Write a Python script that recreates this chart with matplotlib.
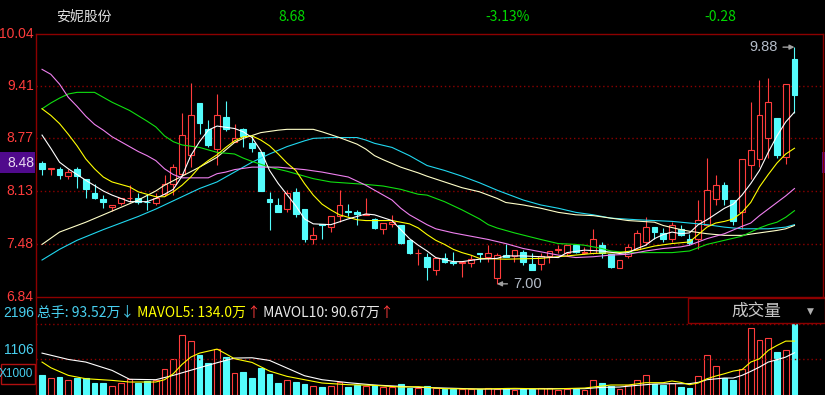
import matplotlib
matplotlib.use("Agg")
import matplotlib.pyplot as plt
from matplotlib.lines import Line2D
from matplotlib.patches import Rectangle

W, H = 825, 395

# daily bars, oldest first
opens = [8.47, 8.40, 8.40, 8.31, 8.40, 8.27, 8.11, 8.03, 7.94, 7.98,
         8.04, 8.05, 8.00, 7.98, 8.09, 8.21, 8.34, 8.57, 9.20, 8.88,
         8.64, 9.03, 8.72, 8.88, 8.71, 8.60, 8.03, 7.96, 7.91, 8.12,
         7.91, 7.55, 7.73, 7.69, 7.82, 7.89, 7.88, 7.84, 7.79, 7.67,
         7.73, 7.72, 7.53, 7.37, 7.33, 7.17, 7.31, 7.27, 7.25, 7.25,
         7.38, 7.33, 7.07, 7.35, 7.34, 7.39, 7.24, 7.24, 7.34, 7.41,
         7.38, 7.47, 7.38, 7.38, 7.47, 7.36, 7.19, 7.34, 7.43, 7.51,
         7.69, 7.62, 7.54, 7.67, 7.55, 7.54, 7.72, 8.03, 8.20, 8.02,
         7.88, 8.45, 8.52, 8.77, 9.02, 8.54, 9.73]
highs = [8.50, 8.41, 8.42, 8.40, 8.42, 8.27, 8.22, 8.08, 7.96, 8.05,
         8.20, 8.11, 8.09, 8.11, 8.32, 8.46, 9.08, 9.44, 9.20, 8.99,
         9.31, 9.23, 8.94, 8.90, 8.81, 8.60, 8.12, 8.05, 8.14, 8.17,
         7.91, 7.69, 7.73, 7.83, 8.14, 7.97, 7.90, 8.05, 7.80, 7.74,
         7.84, 7.72, 7.53, 7.43, 7.37, 7.32, 7.37, 7.39, 7.26, 7.35,
         7.38, 7.47, 7.37, 7.49, 7.41, 7.41, 7.38, 7.37, 7.40, 7.47,
         7.47, 7.47, 7.45, 7.67, 7.51, 7.36, 7.29, 7.49, 7.65, 7.81,
         7.69, 7.68, 7.75, 7.71, 7.61, 8.02, 8.53, 8.32, 8.24, 8.02,
         8.52, 9.21, 9.48, 9.51, 9.02, 9.43, 9.88]
lows = [8.33, 8.33, 8.27, 8.28, 8.17, 8.05, 8.03, 7.92, 7.89, 7.96,
        8.00, 7.97, 7.90, 7.96, 8.07, 8.08, 8.31, 8.42, 8.82, 8.67,
        8.45, 8.86, 8.72, 8.67, 8.60, 8.13, 7.66, 7.88, 7.88, 7.81,
        7.51, 7.48, 7.54, 7.63, 7.75, 7.83, 7.72, 7.84, 7.67, 7.61,
        7.69, 7.48, 7.36, 7.23, 7.05, 7.11, 7.25, 7.23, 7.08, 7.20,
        7.26, 7.27, 7.00, 7.33, 7.27, 7.23, 7.17, 7.17, 7.25, 7.37,
        7.34, 7.37, 7.36, 7.36, 7.31, 7.19, 7.19, 7.31, 7.41, 7.47,
        7.55, 7.51, 7.51, 7.58, 7.47, 7.43, 7.72, 7.96, 7.96, 7.72,
        7.67, 8.28, 8.42, 8.53, 8.53, 8.46, 9.08]
closes = [8.40, 8.41, 8.33, 8.36, 8.31, 8.16, 8.05, 7.99, 7.96, 8.05,
          8.05, 7.99, 7.99, 8.05, 8.21, 8.42, 8.81, 9.06, 8.96, 8.69,
          9.05, 8.89, 8.78, 8.80, 8.65, 8.13, 7.99, 7.88, 8.11, 7.85,
          7.55, 7.59, 7.72, 7.83, 7.96, 7.88, 7.85, 7.85, 7.68, 7.74,
          7.75, 7.50, 7.37, 7.38, 7.20, 7.32, 7.27, 7.25, 7.26, 7.30,
          7.36, 7.38, 7.35, 7.33, 7.41, 7.27, 7.17, 7.34, 7.40, 7.43,
          7.47, 7.39, 7.39, 7.54, 7.38, 7.20, 7.29, 7.45, 7.62, 7.69,
          7.63, 7.54, 7.71, 7.60, 7.50, 7.78, 8.14, 8.20, 8.03, 7.76,
          8.52, 8.63, 9.05, 9.21, 8.57, 9.43, 9.30]
# volume, x1000 lots
volumes = [611, 538, 549, 455, 538, 538, 362, 383, 279, 362,
           507, 362, 435, 455, 818, 1128, 1873, 1687, 1232, 994,
           1428, 1170, 693, 704, 518, 828, 662, 362, 455, 404,
           331, 290, 238, 290, 393, 248, 300, 290, 300, 238,
           238, 352, 217, 207, 290, 207, 186, 186, 186, 186,
           197, 228, 186, 228, 166, 186, 186, 228, 228, 166,
           186, 186, 166, 476, 362, 290, 186, 300, 476, 631,
           331, 300, 373, 238, 217, 600, 1252, 911, 538, 455,
           807, 2091, 1718, 1780, 1325, 1408, 2196]

# moving average lines, (bar index, value) read at sampled bars
ma_white = [(0, 8.81), (1, 8.65), (2, 8.48), (3, 8.40), (4, 8.33), (5, 8.26), (7, 8.13), (8, 8.08),
            (10, 8.00), (12, 8.00), (13, 8.04), (14, 8.09), (15, 8.15), (16, 8.31), (17, 8.56),
            (18, 8.73), (19, 8.87), (20, 8.92), (22, 8.89), (23, 8.85), (24, 8.78), (25, 8.62),
            (26, 8.38), (27, 8.22), (29, 7.95), (30, 7.79), (31, 7.73), (33, 7.72), (35, 7.79),
            (37, 7.85), (38, 7.84), (40, 7.77), (41, 7.66), (42, 7.55), (43, 7.47), (44, 7.40),
            (45, 7.32), (47, 7.27), (48, 7.27), (50, 7.30), (52, 7.31), (53, 7.34), (55, 7.34),
            (57, 7.33), (59, 7.32), (60, 7.38), (62, 7.41), (64, 7.40), (66, 7.37), (67, 7.38),
            (68, 7.43), (69, 7.47), (70, 7.55), (71, 7.60), (72, 7.63), (73, 7.61), (74, 7.62),
            (75, 7.72), (76, 7.78), (77, 7.85), (78, 7.92), (79, 7.97), (80, 8.08), (81, 8.22),
            (82, 8.38), (83, 8.60), (84, 8.80), (85, 8.97), (86, 9.09)]
ma_yellow = [(0, 9.13), (1, 9.05), (2, 8.95), (3, 8.82), (4, 8.68), (5, 8.52), (6, 8.40), (7, 8.30),
             (8, 8.24), (10, 8.18), (11, 8.12), (13, 8.06), (14, 8.06), (15, 8.12), (16, 8.20),
             (17, 8.30), (18, 8.42), (19, 8.50), (20, 8.57), (21, 8.66), (22, 8.74), (23, 8.79),
             (24, 8.80), (25, 8.75), (26, 8.68), (27, 8.58), (28, 8.47), (29, 8.38), (30, 8.22),
             (31, 8.08), (32, 7.97), (33, 7.90), (34, 7.84), (35, 7.81), (36, 7.78), (37, 7.77),
             (40, 7.77), (41, 7.75), (42, 7.73), (43, 7.68), (44, 7.60), (45, 7.53), (46, 7.48),
             (47, 7.42), (48, 7.38), (49, 7.35), (50, 7.31), (53, 7.30), (57, 7.31), (59, 7.33),
             (61, 7.35), (63, 7.37), (66, 7.38), (68, 7.41), (70, 7.46), (72, 7.49), (74, 7.51),
             (75, 7.60), (76, 7.69), (77, 7.74), (78, 7.76), (79, 7.79), (80, 7.87), (81, 7.99),
             (82, 8.18), (83, 8.33), (84, 8.47), (85, 8.58), (86, 8.65)]
ma_pink = [(0, 9.61), (1, 9.55), (2, 9.43), (3, 9.27), (4, 9.16), (5, 9.04), (6, 8.94), (7, 8.87),
           (8, 8.79), (10, 8.67), (11, 8.61), (12, 8.56), (13, 8.50), (14, 8.40), (15, 8.33),
           (16, 8.29), (19, 8.29), (20, 8.34), (21, 8.36), (22, 8.39), (24, 8.42), (27, 8.42),
           (30, 8.39), (32, 8.36), (34, 8.32), (35, 8.30), (36, 8.25), (37, 8.20), (38, 8.14),
           (39, 8.08), (40, 8.02), (41, 7.92), (42, 7.84), (43, 7.78), (44, 7.72), (45, 7.67),
           (47, 7.62), (49, 7.58), (51, 7.54), (53, 7.49), (55, 7.43), (57, 7.39), (59, 7.35),
           (61, 7.32), (63, 7.33), (65, 7.35), (67, 7.36), (69, 7.40), (71, 7.43), (73, 7.45),
           (74, 7.47), (75, 7.51), (76, 7.55), (78, 7.61), (80, 7.70), (81, 7.74), (82, 7.83),
           (83, 7.91), (84, 7.99), (85, 8.07), (86, 8.16)]
ma_green = [(0, 9.13), (1, 9.20), (2, 9.26), (3, 9.31), (4, 9.33), (6, 9.33), (7, 9.27), (8, 9.21),
            (10, 9.11), (12, 8.98), (13, 8.91), (14, 8.80), (15, 8.73), (16, 8.69), (18, 8.66),
            (20, 8.60), (22, 8.58), (23, 8.53), (24, 8.49), (26, 8.42), (28, 8.37), (30, 8.31),
            (31, 8.28), (33, 8.24), (37, 8.21), (39, 8.19), (41, 8.15), (43, 8.09), (44, 8.08),
            (45, 8.04), (46, 8.00), (48, 7.90), (50, 7.79), (51, 7.72), (52, 7.68), (54, 7.62),
            (57, 7.54), (59, 7.49), (61, 7.48), (62, 7.47), (64, 7.43), (65, 7.40), (67, 7.38),
            (72, 7.38), (74, 7.40), (76, 7.48), (78, 7.53), (80, 7.58), (81, 7.63), (82, 7.68),
            (83, 7.72), (84, 7.75), (85, 7.81), (86, 7.89)]
ma_cream = [(0, 7.48), (2, 7.63), (3, 7.67), (5, 7.75), (7, 7.84), (9, 7.93), (11, 8.02), (13, 8.13),
            (14, 8.20), (16, 8.31), (18, 8.42), (20, 8.54), (22, 8.72), (23, 8.77), (25, 8.84),
            (27, 8.87), (28, 8.88), (31, 8.88), (32, 8.85), (34, 8.78), (36, 8.70), (37, 8.64),
            (38, 8.56), (39, 8.51), (41, 8.42), (43, 8.35), (44, 8.31), (46, 8.24), (48, 8.17),
            (50, 8.12), (52, 8.04), (53, 7.99), (55, 7.96), (57, 7.92), (59, 7.87), (61, 7.84),
            (63, 7.83), (65, 7.80), (67, 7.77), (70, 7.75), (71, 7.71), (73, 7.66), (74, 7.64),
            (76, 7.61), (78, 7.59), (80, 7.59), (82, 7.62), (84, 7.65), (85, 7.67), (86, 7.71)]
ma_cyan = [(0, 7.29), (2, 7.42), (4, 7.53), (7, 7.66), (9, 7.74), (11, 7.82), (13, 7.91), (14, 7.96),
           (16, 8.06), (18, 8.16), (20, 8.24), (22, 8.36), (24, 8.48), (26, 8.58), (28, 8.67),
           (30, 8.74), (31, 8.77), (33, 8.78), (36, 8.78), (37, 8.75), (38, 8.71), (40, 8.66),
           (42, 8.56), (43, 8.50), (44, 8.44), (46, 8.38), (48, 8.31), (50, 8.23), (52, 8.14),
           (53, 8.10), (55, 8.02), (57, 7.96), (59, 7.92), (61, 7.87), (63, 7.84), (65, 7.80),
           (68, 7.78), (70, 7.77), (72, 7.76), (74, 7.74), (76, 7.72), (78, 7.69), (80, 7.67),
           (83, 7.67), (85, 7.69), (86, 7.72)]

mavol5 = [(0, 1025), (1, 849), (3, 611), (5, 507), (8, 455), (10, 404), (13, 404), (14, 476),
          (15, 662), (16, 952), (17, 1180), (18, 1304), (20, 1428), (21, 1283), (22, 1128),
          (24, 1014), (26, 745), (28, 580), (30, 476), (32, 373), (35, 321), (38, 300), (41, 248),
          (43, 259), (46, 197), (50, 186), (54, 207), (58, 186), (62, 217), (63, 248), (65, 311),
          (67, 311), (69, 383), (71, 383), (72, 435), (73, 393), (74, 321), (75, 373), (76, 507),
          (77, 590), (78, 662), (79, 745), (80, 787), (81, 1025), (82, 1128), (83, 1387),
          (84, 1542), (85, 1677), (86, 1677)]
mavol10 = [(0, 1304), (3, 1107), (5, 1025), (8, 766), (10, 490), (13, 476), (15, 611), (18, 849),
           (20, 1004), (22, 1149), (24, 1159), (26, 1076), (28, 838), (30, 600), (32, 476),
           (35, 383), (38, 311), (41, 269), (43, 238), (46, 217), (50, 186), (54, 186), (58, 197),
           (62, 197), (64, 238), (66, 248), (68, 300), (70, 342), (72, 352), (74, 352), (75, 393),
           (76, 476), (78, 528), (79, 528), (80, 611), (81, 735), (82, 869), (83, 1025),
           (84, 1097), (85, 1180), (86, 1314)]

price_ticks = [10.04, 9.41, 8.77, 8.13, 7.48, 6.84]
vol_grid = [2196, 1106]
last_price = "8.48"

BG = "black"
RED = "#ff3c3c"
CYAN = "#54fcfc"
FRAME = "#8c0000"
NUM_FONT = ["Liberation Sans", "DejaVu Sans"]
CJK_FONT = ["Noto Sans CJK SC", "DejaVu Sans"]


def fx(x):
    return x / W


def fy(y):
    return 1 - y / H


fig = plt.figure(figsize=(W / 100, H / 100), dpi=100, facecolor=BG)

ax = fig.add_axes([fx(36), fy(297), (823 - 36) / W, (297 - 34) / H])
axv = fig.add_axes([fx(36), 0, (823 - 36) / W, (395 - 297) / H])
for a in (ax, axv):
    a.set_facecolor(BG)
    a.set_axis_off()
    a.set_xlim(-0.69, 89.26)
ax.set_ylim(price_ticks[-1], price_ticks[0])
axv.set_ylim(0, 3050)

# dotted grid
for v in price_ticks[1:-1]:
    ax.axhline(v, color=FRAME, lw=1, ls=(0, (1, 2)))
for v in vol_grid:
    axv.axhline(v, color=FRAME, lw=1, ls=(0, (1, 2)))

# candles
bw = 0.66
for i, (o, h, l, c) in enumerate(zip(opens, highs, lows, closes)):
    top, bot = max(o, c), min(o, c)
    hgt = max(top - bot, 0.006)
    if c >= o:
        ax.vlines(i, top, h, color=RED, lw=0.8)
        ax.vlines(i, l, bot, color=RED, lw=0.8)
        ax.add_patch(Rectangle((i - bw / 2, bot), bw, hgt, facecolor=BG, edgecolor=RED, lw=0.8, zorder=2))
    else:
        ax.vlines(i, l, h, color=CYAN, lw=0.8)
        ax.add_patch(Rectangle((i - bw / 2, bot), bw, hgt, facecolor=CYAN, edgecolor=CYAN, lw=0.8, zorder=2))

for pts, col in [(ma_cyan, "#20d8f0"), (ma_cream, "#ffffc8"), (ma_green, "#10e010"),
                 (ma_pink, "#f080f0"), (ma_yellow, "#ffff00"), (ma_white, "#ffffff")]:
    xs, ys = zip(*pts)
    ax.plot(xs, ys, color=col, lw=0.8, zorder=3)

# high / low markers
hi_i = highs.index(max(highs))
lo_i = lows.index(min(lows))
ann = dict(color="#b4bcc8", fontsize=10.5, family=NUM_FONT, va="center")
ax.annotate(f"{highs[hi_i]:.2f}", xy=(hi_i, highs[hi_i]), xytext=(-17, 0), textcoords="offset pixels",
            ha="right", arrowprops=dict(arrowstyle="-|>", color="#a0a0a0", lw=1, shrinkA=2, shrinkB=0,
                                        mutation_scale=7), annotation_clip=False, **ann)
ax.annotate(f"{lows[lo_i]:.2f}", xy=(lo_i, lows[lo_i]), xytext=(16, 0), textcoords="offset pixels",
            ha="left", arrowprops=dict(arrowstyle="-|>", color="#a0a0a0", lw=1, shrinkA=2, shrinkB=0,
                                       mutation_scale=7), annotation_clip=False, **ann)

# volume bars
for i, (o, c, v) in enumerate(zip(opens, closes, volumes)):
    if c >= o:
        axv.bar(i, v, width=bw, facecolor=BG, edgecolor=RED, lw=0.8)
    else:
        axv.bar(i, v, width=bw, facecolor=CYAN, edgecolor=CYAN, lw=0.8)
for pts, col in [(mavol10, "#ffffff"), (mavol5, "#ffff00")]:
    xs, ys = zip(*pts)
    axv.plot(xs, ys, color=col, lw=0.8, zorder=3)

# frame lines
for (x1, y1, x2, y2) in [(36, 34, 823, 34), (36, 34, 36, 395), (823, 34, 823, 297), (36, 297, 825, 297)]:
    fig.add_artist(Line2D([fx(x1), fx(x2)], [fy(y1), fy(y2)], color=FRAME, lw=1))

# price labels
for v in price_ticks:
    ax.text(-0.003, v, f"{v:.2f}", transform=ax.get_yaxis_transform(), ha="right", va="center",
            color=RED, fontsize=10, family=NUM_FONT, clip_on=False)

# last price box
fig.add_artist(Rectangle((0, fy(173)), fx(35), 21 / H, facecolor="#500a8c", edgecolor="none"))
fig.add_artist(Rectangle((fx(822), fy(173)), fx(3), 21 / H, facecolor="#500a8c", edgecolor="none"))
fig.text(fx(34), fy(163), last_price, ha="right", va="center", color="#e8d8f0", fontsize=10, family=NUM_FONT)

# volume labels
VOLC = "#48d0f0"
fig.text(fx(34), fy(313), f"{vol_grid[0]}", ha="right", va="center", color=VOLC, fontsize=10, family=NUM_FONT)
fig.text(fx(34), fy(350), f"{vol_grid[1]}", ha="right", va="center", color=VOLC, fontsize=10, family=NUM_FONT)
fig.add_artist(Rectangle((fx(0.5), fy(384)), fx(34.5), 20 / H, facecolor="none", edgecolor="#b01010", lw=1))
fig.text(fx(33.5), fy(374), "X1000", ha="right", va="center", color=VOLC, fontsize=8.5, family=NUM_FONT)

# title row
fig.text(fx(56), fy(17), "安妮股份", ha="left", va="center", color="#e0e0e0", fontsize=10, family=CJK_FONT)
GREEN = "#00d800"
for x, s in [(292, "8.68"), (508, "-3.13%"), (720, "-0.28")]:
    fig.text(fx(x), fy(17), s, ha="center", va="center", color=GREEN, fontsize=10, family=CJK_FONT)

# volume header
t = fig.text(fx(37), fy(313), "总手: 93.52万↓", ha="left", va="center", color=VOLC, fontsize=10, family=CJK_FONT)
parts = [(" MAVOL5: 134.0万", "#ffff00"), ("↑", RED), (" MAVOL10: 90.67万", "#e8e8e8"), ("↑", RED)]
for s, col in parts:
    t = axv.annotate(s, xy=(1, 0.5), xycoords=t, ha="left", va="center", color=col, fontsize=10,
                     family=CJK_FONT, annotation_clip=False)

# 成交量 selector box
fig.add_artist(Rectangle((fx(688), fy(323)), fx(825 - 688), 25 / H, facecolor=BG, edgecolor=FRAME, lw=1))
fig.text(fx(756), fy(311), "成交量", ha="center", va="center", color="#c8c8c8", fontsize=12, family=CJK_FONT)
fig.text(fx(810), fy(311), "▼", ha="center", va="center", color="#b0b0b0", fontsize=6.5, family=["DejaVu Sans"])

fig.savefig("out.png", dpi=100, facecolor=BG)
